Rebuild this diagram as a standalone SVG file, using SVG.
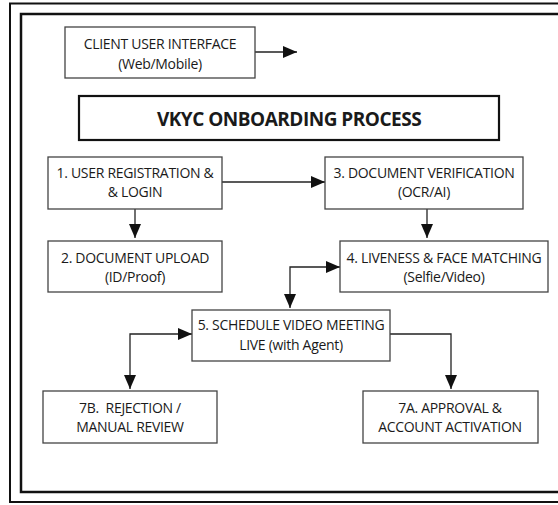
<svg xmlns="http://www.w3.org/2000/svg" width="558" height="505" viewBox="0 0 558 505">
<style>
.box{fill:#fff;stroke:#444;stroke-width:1.3}
.t{font-family:"Open Sans","Noto Sans",sans-serif;font-size:14px;letter-spacing:-0.3px;fill:#1a1a1a;text-anchor:middle}
.c{fill:none;stroke:#222;stroke-width:1.3}
</style>
<defs>
<marker id="ahl" viewBox="0 0 14 12" refX="14" refY="6" markerWidth="14" markerHeight="12" markerUnits="userSpaceOnUse" orient="auto-start-reverse">
<path d="M0,0 L14,6 L0,12 z" fill="#111"/>
</marker>
</defs>
<rect x="0" y="0" width="558" height="505" fill="#fff"/>
<g id="frame">
<rect x="10" y="3.5" width="570" height="498.5" fill="none" stroke="#111" stroke-width="2"/>
<rect x="21" y="14" width="560" height="478" fill="none" stroke="#111" stroke-width="2.5"/>
</g>
<g id="connectors">
<path class="c" d="M255,52 H297" marker-end="url(#ahl)"/>
<path class="c" d="M135,209 V238" marker-end="url(#ahl)"/>
<path class="c" d="M222,182 H325" marker-end="url(#ahl)"/>
<path class="c" d="M427,209 V238" marker-end="url(#ahl)"/>
<path class="c" d="M290,308 V267 H340" marker-end="url(#ahl)" marker-start="url(#ahl)"/>
<path class="c" d="M192,334 H130 V389" marker-start="url(#ahl)" marker-end="url(#ahl)"/>
<path class="c" d="M390,334 H451 V389" marker-end="url(#ahl)"/>
</g>
<g id="client">
<rect class="box" x="65" y="27" width="190" height="51"/>
<text class="t" x="160" y="49">CLIENT USER INTERFACE</text>
<text class="t" x="160" y="69">(Web/Mobile)</text>
</g>
<g id="title">
<rect x="79" y="96" width="420" height="44" fill="#fff" stroke="#111" stroke-width="2.2"/>
<text class="t" x="289" y="126" style="font-size:19px;font-weight:bold;letter-spacing:-0.5px">VKYC ONBOARDING PROCESS</text>
</g>
<g id="n1">
<rect class="box" x="48" y="157" width="174" height="52"/>
<text class="t" x="135" y="178">1. USER REGISTRATION &amp;</text>
<text class="t" x="135" y="197">&amp; LOGIN</text>
</g>
<g id="n2">
<rect class="box" x="48" y="241" width="174" height="51"/>
<text class="t" x="135" y="263">2. DOCUMENT UPLOAD</text>
<text class="t" x="135" y="282">(ID/Proof)</text>
</g>
<g id="n3">
<rect class="box" x="325" y="157" width="198" height="52"/>
<text class="t" x="424" y="178">3. DOCUMENT VERIFICATION</text>
<text class="t" x="424" y="197">(OCR/AI)</text>
</g>
<g id="n4">
<rect class="box" x="340" y="241" width="208" height="51"/>
<text class="t" x="444" y="263">4. LIVENESS &amp; FACE MATCHING</text>
<text class="t" x="444" y="282">(Selfie/Video)</text>
</g>
<g id="n5">
<rect class="box" x="192" y="310" width="198" height="51"/>
<text class="t" x="291" y="330">5. SCHEDULE VIDEO MEETING</text>
<text class="t" x="291" y="350">LIVE (with Agent)</text>
</g>
<g id="n7b">
<rect class="box" x="43" y="391" width="174" height="52"/>
<text class="t" x="130" y="413" xml:space="preserve">7B.  REJECTION /</text>
<text class="t" x="130" y="432">MANUAL REVIEW</text>
</g>
<g id="n7a">
<rect class="box" x="363" y="391" width="175" height="52"/>
<text class="t" x="450" y="413">7A. APPROVAL &amp;</text>
<text class="t" x="450" y="432">ACCOUNT ACTIVATION</text>
</g>
</svg>
